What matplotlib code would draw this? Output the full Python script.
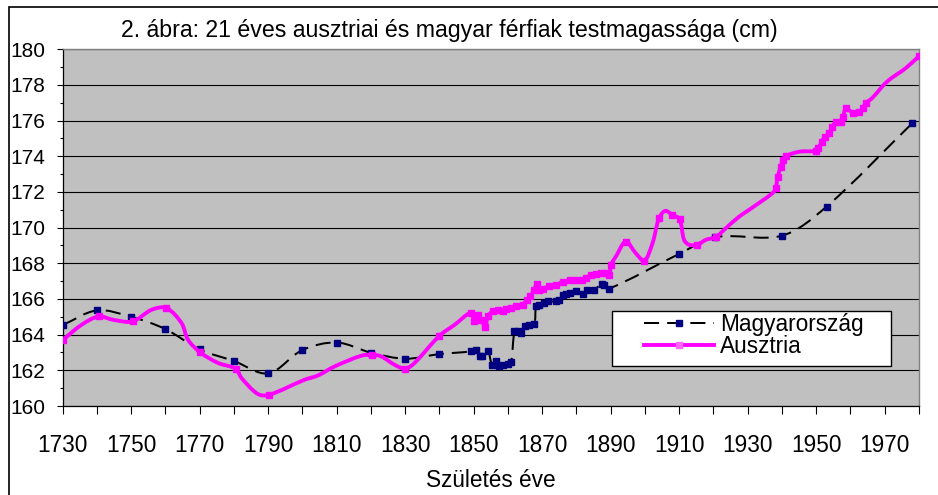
import numpy as np
import matplotlib
matplotlib.use("Agg")
import matplotlib.pyplot as plt
from matplotlib.path import Path
from matplotlib.patches import PathPatch, Rectangle
from matplotlib.lines import Line2D
from matplotlib.ticker import MultipleLocator

plt.rcParams['font.family'] = ['Liberation Sans', 'DejaVu Sans']

TITLE = "2. ábra: 21 éves ausztriai és magyar férfiak testmagassága (cm)"
XLABEL = "Születés éve"
SERIES_NAMES = ["Magyarország", "Ausztria"]

# Magyarország (Hungary) data points
HUN_YEARS = [1730, 1740, 1750, 1760, 1770, 1780, 1790, 1800, 1810, 1820, 1830, 1840,
             1849.2, 1850.7, 1851.7, 1852.4, 1854.1, 1855.4, 1856.5, 1857.5, 1858.5,
             1859.9, 1860.9, 1861.9, 1862.9, 1863.8, 1865.1, 1866.2, 1867.7, 1868.2,
             1869.2, 1870.4, 1871.6, 1874.0, 1875.0, 1876.0, 1877.0, 1878.0, 1879.9,
             1881.8, 1883.2, 1885.1, 1887.4, 1888.1, 1889.4, 1910.0, 1920.5, 1940.0,
             1953.0, 1978.0]
HUN_VALUES = [164.54, 165.36, 165.00, 164.31, 163.17, 162.52, 161.83, 163.14, 163.56,
              162.99, 162.65, 162.91,
              163.06, 163.15, 162.82, 162.78, 163.06, 162.31, 162.50, 162.26, 162.31,
              162.35, 162.45, 164.18, 164.22, 164.12, 164.46, 164.55, 164.61, 165.58,
              165.67, 165.80, 165.86, 165.86, 165.95, 166.23, 166.29, 166.36, 166.42,
              166.29, 166.48, 166.52, 166.84, 166.80, 166.57, 168.53, 169.47, 169.55,
              171.18, 175.85]

# Ausztria (Austria) data points; AUT_MARK: 1 where a marker is shown
AUT_YEARS = [1730, 1735.5, 1740.5, 1744.8, 1750.4, 1756.0, 1760.3, 1764.7, 1766.6,
             1770.2, 1775.4, 1780.5, 1782.2, 1787.0, 1790.3, 1800.6, 1804.5, 1809.4,
             1817.2, 1820.3, 1823.0, 1826.9, 1830.0, 1832.7, 1840.0, 1844.4, 1849.2,
             1850.2, 1851.2, 1852.2, 1853.4, 1854.1, 1855.5, 1857.0, 1858.5, 1859.4,
             1860.9, 1862.4, 1864.3, 1865.5, 1866.4, 1867.7, 1868.4, 1869.2, 1870.1,
             1872.1, 1874.0, 1876.0, 1878.0, 1879.9, 1881.5, 1882.8, 1884.2, 1885.7,
             1887.1, 1888.6, 1889.6, 1890.1, 1891.5, 1894.4, 1897.3, 1899.8, 1902.2,
             1904.1, 1905.9, 1908.0, 1910.1, 1911.4, 1912.9, 1915.3, 1917.8, 1920.7,
             1923.6, 1927.5, 1930.4, 1937.2, 1938.2, 1938.7, 1939.7, 1940.2, 1941.2,
             1945.1, 1949.8, 1950.6, 1951.6, 1952.6, 1953.7, 1954.7, 1955.7, 1957.1,
             1957.8, 1958.6, 1959.5, 1960.7, 1962.4, 1963.6, 1964.4, 1966.3, 1970.7,
             1976.1, 1980.0]
AUT_VALUES = [163.70, 164.55, 165.02, 164.83, 164.74, 165.40, 165.49, 164.65, 163.71,
              163.00, 162.41, 162.09, 161.57, 160.67, 160.63, 161.47, 161.71, 162.22,
              162.82, 162.87, 162.78, 162.31, 162.09, 162.41, 163.94, 164.55, 165.23,
              164.74, 165.11, 164.83, 164.43, 165.02, 165.30, 165.39, 165.30, 165.43,
              165.49, 165.58, 165.67, 165.96, 166.14, 166.52, 166.85, 166.50, 166.56,
              166.71, 166.80, 166.95, 167.05, 167.06, 167.06, 167.17, 167.36, 167.40,
              167.48, 167.48, 167.36, 167.92, 168.38, 169.22, 168.57, 168.14, 169.13,
              170.53, 170.94, 170.72, 170.48, 169.32, 169.04, 169.04, 169.32, 169.47,
              169.97, 170.62, 171.00, 171.93, 172.21, 172.86, 173.42, 173.80, 174.02,
              174.26, 174.30, 174.45, 174.83, 175.10, 175.29, 175.63, 175.94, 175.94,
              176.22, 176.69, 176.60, 176.45, 176.50, 176.69, 176.97, 177.26, 178.19,
              178.94, 179.62]
AUT_MARK = [1, 0, 1, 0, 1, 0, 1, 0, 0,
            1, 0, 1, 0, 0, 1, 0, 0, 0,
            0, 1, 0, 0, 1, 0, 1, 0, 1,
            1, 1, 1, 1, 1, 1, 1, 1, 1,
            1, 1, 1, 1, 1, 1, 1, 1, 1,
            1, 1, 1, 1, 1, 1, 1, 1, 1,
            1, 1, 1, 1, 0, 1, 0, 1, 0,
            1, 0, 1, 1, 0, 0, 1, 0, 1,
            0, 0, 0, 0, 1, 1, 1, 1, 1,
            0, 1, 1, 1, 1, 1, 1, 1, 1,
            1, 1, 0, 1, 1, 1, 1, 0, 0,
            0, 1]

X_MAJOR_TICKS = list(range(1730, 1971, 20))
Y_TICKS = list(range(160, 181, 2))

W, H = 938, 495
fig = plt.figure(figsize=(W / 100, H / 100), dpi=100)
fig.patch.set_facecolor('white')

# outer chart border
fig.add_artist(Rectangle((9 / W, -0.1), 1.2, 1.1 - 7 / H, transform=fig.transFigure,
                         fill=False, edgecolor='black', linewidth=1.2))

ax = fig.add_axes([62.7 / W, 1 - 406 / H, (919 - 62.7) / W, (406 - 49.3) / H])
ax.set_facecolor('#C0C0C0')
ax.set_xlim(1730, 1980)
ax.set_ylim(160, 180)

ax.set_xticks(X_MAJOR_TICKS)
ax.xaxis.set_minor_locator(MultipleLocator(10))
ax.set_yticks(Y_TICKS)
ax.yaxis.set_minor_locator(MultipleLocator(1))
ax.tick_params(axis='x', which='both', direction='out', length=5.5, width=0.8,
               labelsize=16.3, pad=15)
ax.tick_params(axis='y', which='major', direction='out', length=4.5, width=0.8,
               labelsize=15.0, pad=8)
ax.tick_params(axis='y', which='minor', direction='out', length=2.3, width=0.8)
ax.grid(axis='y', which='major', color='black', linewidth=0.8)
ax.set_axisbelow(True)
for s in ['left', 'bottom']:
    ax.spines[s].set_color('black')
    ax.spines[s].set_linewidth(0.9)
for s in ['top', 'right']:
    ax.spines[s].set_color('#808080')
    ax.spines[s].set_linewidth(1.0)


def smooth_path(xs, ys):
    """Smooth (Excel-like) Bezier path through the points, built in display space."""
    pts = ax.transData.transform(np.column_stack([xs, ys]))
    n = len(pts)
    verts = [pts[0]]
    codes = [Path.MOVETO]
    for i in range(n - 1):
        p0 = pts[i - 1] if i > 0 else pts[i]
        p1 = pts[i]
        p2 = pts[i + 1]
        p3 = pts[i + 2] if i + 2 < n else pts[i + 1]
        d0 = np.linalg.norm(p1 - p0)
        d1 = np.linalg.norm(p2 - p1)
        d2 = np.linalg.norm(p3 - p2)
        t1 = (p2 - p0) / (d0 + d1) * d1 / 3 if d0 + d1 > 0 else 0 * p1
        t2 = (p3 - p1) / (d1 + d2) * d1 / 3 if d1 + d2 > 0 else 0 * p1
        verts += [p1 + t1, p2 - t2, p2]
        codes += [Path.CURVE4] * 3
    verts = ax.transData.inverted().transform(np.array(verts))
    return Path(verts, codes)


HUN_DASH = (0, (7.5, 4.0))
hun_lw = 1.45
aut_lw = 2.8

ax.add_patch(PathPatch(smooth_path(HUN_YEARS, HUN_VALUES), fill=False,
                       edgecolor='black', linewidth=hun_lw, linestyle=HUN_DASH,
                       zorder=3, capstyle='butt'))
ax.plot(HUN_YEARS, HUN_VALUES, linestyle='none', marker='s', markersize=3.8,
        markerfacecolor='#000080', markeredgecolor='#000080', zorder=4)

ax.add_patch(PathPatch(smooth_path(AUT_YEARS, AUT_VALUES), fill=False,
                       edgecolor='#FF00FF', linewidth=aut_lw, zorder=5,
                       joinstyle='round', capstyle='round'))
aut_mx = [x for x, m in zip(AUT_YEARS, AUT_MARK) if m]
aut_my = [y for y, m in zip(AUT_VALUES, AUT_MARK) if m]
ax.plot(aut_mx, aut_my, linestyle='none', marker='s', markersize=4.6,
        markerfacecolor='#FF00FF', markeredgecolor='#FF00FF', zorder=6)

# title and axis label
fig.text(449.5 / W, 1 - 30 / H, TITLE, ha='center', va='center', fontsize=16.7)
ax.set_xlabel(XLABEL, fontsize=16.3, labelpad=8)

# legend box and legend
box = Rectangle((612 / W, 1 - 366 / H), (891 - 612) / W, (366 - 311) / H,
                transform=fig.transFigure, facecolor='white', edgecolor='black',
                linewidth=1.0, zorder=7)
fig.add_artist(box)
handles = [
    Line2D([], [], color='black', linewidth=hun_lw, linestyle=HUN_DASH, marker='s',
           markersize=3.8, markerfacecolor='#000080', markeredgecolor='#000080'),
    Line2D([], [], color='#FF00FF', linewidth=aut_lw, marker='s', markersize=4.6,
           markerfacecolor='#FF66FF', markeredgecolor='#FF66FF'),
]
leg = fig.legend(handles, SERIES_NAMES, loc='upper left',
                 bbox_to_anchor=(644 / W, 1 - 313 / H), frameon=False,
                 fontsize=16.3, handlelength=3.1, handletextpad=0.25,
                 labelspacing=-0.05, borderpad=0, borderaxespad=0, markerscale=1)
leg.set_zorder(8)

fig.savefig('out.png', dpi=100)
